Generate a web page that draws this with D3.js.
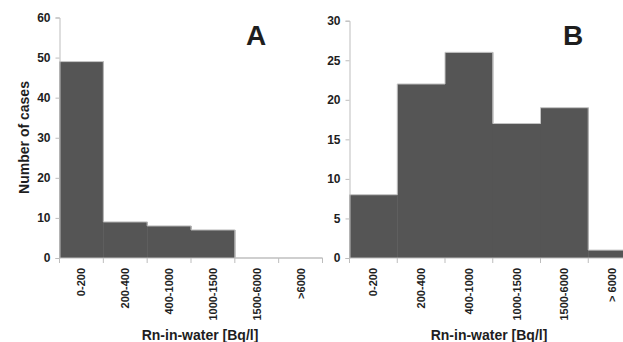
<!DOCTYPE html>
<html>
<head>
<meta charset="utf-8">
<script src="https://cdn.jsdelivr.net/npm/d3@7/dist/d3.min.js"></script>
<style>
  html, body { margin: 0; padding: 0; background: #fff; }
  svg { display: block; }
  text { font-family: "Liberation Sans", Arial, sans-serif; font-weight: bold; fill: #1e1e1e; }
</style>
</head>
<body>
<svg id="chart" width="623" height="342"></svg>
<script>
// Rn-in-water concentration classes [Bq/l]
const categoriesA = ["0-200", "200-400", "400-1000", "1000-1500", "1500-6000", ">6000"];
const categoriesB = ["0-200", "200-400", "400-1000", "1000-1500", "1500-6000", "> 6000"];
// Number of cases per class
const casesA = [49, 9, 8, 7, 0, 0];
const casesB = [8, 22, 26, 17, 19, 1];
// Y tick values
const ticksA = [0, 10, 20, 30, 40, 50, 60];
const ticksB = [0, 5, 10, 15, 20, 25, 30];

const svg = d3.select("#chart");
const axisColor = "#bdbdbd";
const barFill = "#555555";

function panel(opts) {
  const x = d3.scaleBand().domain(opts.categories).range(opts.xRange).padding(0);
  const y = d3.scaleLinear().domain([0, opts.yMax]).range(opts.yRange);
  const g = svg.append("g");
  const data = opts.categories.map((c, i) => ({ c, v: opts.values[i] }));

  // bars
  g.selectAll("rect.bar")
    .data(data.filter(d => d.v > 0))
    .join("rect")
    .attr("class", "bar")
    .attr("x", d => x(d.c))
    .attr("y", d => y(d.v))
    .attr("width", x.bandwidth() + 0.5)
    .attr("height", d => y(0) - y(d.v))
    .attr("fill", barFill);

  // light outline along the histogram steps
  const step = d3.line().curve(d3.curveStepAfter)
    .x(d => d[0]).y(d => d[1]);
  const pts = data.map(d => [x(d.c), y(d.v)]);
  pts.push([opts.xRange[1], y(data[data.length - 1].v)]);
  g.append("path")
    .attr("d", step(pts))
    .attr("fill", "none")
    .attr("stroke", "#c4c4c4")
    .attr("stroke-width", 1);

  // y axis
  const yAxis = g.append("g")
    .attr("transform", `translate(${opts.xRange[0]},0)`)
    .call(d3.axisLeft(y).tickValues(opts.yTicks).tickSize(4).tickPadding(5));
  yAxis.select(".domain").attr("stroke", axisColor);
  yAxis.selectAll(".tick line").attr("stroke", axisColor);
  yAxis.selectAll(".tick text").style("font-size", "12px").attr("fill", "#1e1e1e");

  // x axis: ticks at class boundaries
  const x0 = y(0);
  g.append("line")
    .attr("x1", opts.xRange[0]).attr("x2", opts.xRange[1])
    .attr("y1", x0).attr("y2", x0)
    .attr("stroke", axisColor);
  const bounds = opts.categories.map(c => x(c)).concat([opts.xRange[1]]);
  g.selectAll("line.xt").data(bounds).join("line")
    .attr("class", "xt")
    .attr("x1", d => d).attr("x2", d => d)
    .attr("y1", x0).attr("y2", x0 + 5)
    .attr("stroke", axisColor);

  // rotated category labels
  g.selectAll("text.xl").data(opts.categories).join("text")
    .attr("class", "xl")
    .attr("transform", d => `translate(${x(d) + x.bandwidth() / 2 + 4},${x0 + 10}) rotate(-90)`)
    .attr("text-anchor", "end")
    .style("font-size", "11px")
    .text(d => d);

  // x axis title
  g.append("text")
    .attr("x", opts.titleX).attr("y", 340)
    .attr("text-anchor", "middle")
    .style("font-size", "14px")
    .text("Rn-in-water [Bq/l]");

  // panel letter
  g.append("text")
    .attr("x", opts.letterX).attr("y", 45)
    .attr("text-anchor", "middle")
    .style("font-size", "28px")
    .text(opts.letter);
}

panel({
  categories: categoriesA, values: casesA, yMax: 60, yTicks: ticksA,
  xRange: [59.5, 322.5], yRange: [258, 17.5], titleX: 200, letterX: 256, letter: "A"
});
panel({
  categories: categoriesB, values: casesB, yMax: 30, yTicks: ticksB,
  xRange: [349.5, 636], yRange: [258, 20.7], titleX: 489, letterX: 573, letter: "B"
});

// y axis title
svg.append("text")
  .attr("transform", "translate(28.5,137.5) rotate(-90)")
  .attr("text-anchor", "middle")
  .style("font-size", "14px")
  .text("Number of cases");
</script>
</body>
</html>
